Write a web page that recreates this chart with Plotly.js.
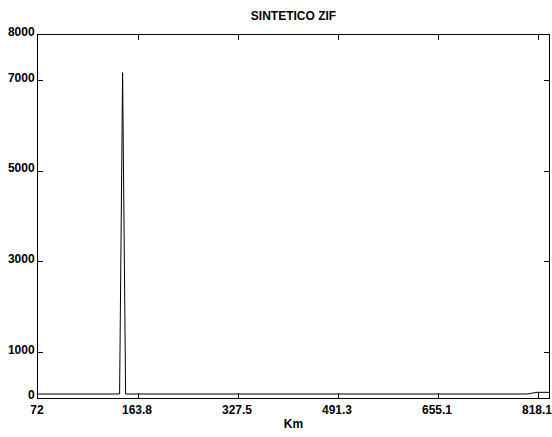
<!DOCTYPE html>
<html>
<head>
<meta charset="utf-8">
<script src="https://cdn.plot.ly/plotly-3.0.1.min.js"></script>
<style>html,body{margin:0;padding:0;background:#fff;}#chart{width:552px;height:437px;}</style>
</head>
<body>
<div id="chart"></div>
<script>
// sample index along profile
const sampleIndex = [0, 81.6, 84.6, 87.6, 489, 499, 511];
// signal values
const signalValues = [88, 88, 7170, 88, 88, 125, 125];
// x tick positions (sample index) and labels (Km)
const xTickVals = [0, 100, 200, 300, 400, 500];
const xTickText = ['72', '163.8', '327.5', '491.3', '655.1', '818.1'];
const yTickVals = [0, 1000, 3000, 5000, 7000, 8000];
const yTickText = ['0', '1000', '3000', '5000', '7000', '8000'];

const fontFam = '"Liberation Sans", Arial, sans-serif';
const bold = arr => arr.map(s => '<b>' + s + '</b>');

const trace = {
  x: sampleIndex,
  y: signalValues,
  type: 'scatter',
  mode: 'lines',
  line: {color: '#000', width: 1},
  hoverinfo: 'skip'
};

const layout = {
  width: 552,
  height: 437,
  margin: {l: 38, r: 3, t: 35, b: 39, pad: 0},
  paper_bgcolor: '#fff',
  plot_bgcolor: '#fff',
  showlegend: false,
  title: {
    text: '<b>SINTETICO ZIF</b>',
    font: {family: fontFam, size: 12, color: '#000'},
    x: 0.5317, xanchor: 'center', xref: 'container',
    y: 1 - 16/437, yanchor: 'middle', yref: 'container'
  },
  xaxis: {
    range: [0, 511],
    tickvals: xTickVals,
    ticktext: bold(xTickText),
    ticks: 'inside',
    ticklen: 5,
    tickcolor: '#000',
    tickwidth: 1,
    showline: true,
    linecolor: '#000',
    linewidth: 1,
    mirror: 'ticks',
    showgrid: false,
    zeroline: false,
    ticklabeloverflow: 'allow',
    ticklabelshift: -1,
    ticklabelstandoff: 1,
    tickfont: {family: fontFam, size: 12, color: '#000'},
    title: {text: '<b>Km</b>', font: {family: fontFam, size: 12, color: '#000'}, standoff: 3}
  },
  yaxis: {
    range: [0, 8000],
    tickvals: yTickVals,
    ticktext: bold(yTickText),
    ticks: 'inside',
    ticklen: 5,
    tickcolor: '#000',
    tickwidth: 1,
    showline: true,
    linecolor: '#000',
    linewidth: 1,
    mirror: 'ticks',
    showgrid: false,
    zeroline: false,
    ticklabeloverflow: 'allow',
    ticklabelshift: -3,
    tickfont: {family: fontFam, size: 12, color: '#000'}
  }
};

Plotly.newPlot('chart', [trace], layout, {displayModeBar: false, staticPlot: true});
</script>
</body>
</html>
